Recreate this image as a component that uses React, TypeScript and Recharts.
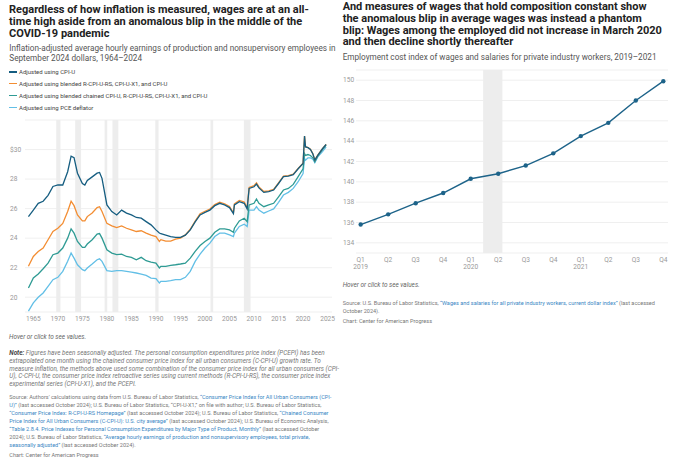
import React from 'react'
import {
  LineChart, Line, XAxis, YAxis, CartesianGrid, ReferenceArea,
} from 'recharts'

// ---- left chart: inflation-adjusted average hourly earnings ----
const YEARS = [
  1964, 1965, 1966, 1967, 1968, 1969, 1970, 1971, 1972, 1972.7, 1973.3,
  1974, 1975, 1975.5, 1976, 1977, 1978, 1978.5, 1979,
  1980, 1981, 1982, 1983, 1984, 1985, 1986, 1987, 1988, 1989, 1990, 1990.7,
  1991, 1992, 1993, 1994, 1995, 1996, 1997, 1998, 1999, 2000, 2001, 2002, 2003, 2004, 2005, 2005.8,
  2006, 2007, 2008, 2008.6, 2009, 2010, 2010.5,
  2011, 2012, 2013, 2014, 2015, 2016, 2017, 2018, 2019, 2020, 2020.3, 2020.5,
  2021, 2021.5, 2022, 2022.4, 2023, 2024, 2024.7,
]
const CPI_U = [
  25.46, 25.9, 26.36, 26.5, 26.9, 27.5, 27.6, 27.6, 28.5, 29.55, 29.45,
  28.4, 27.7, 27.6, 27.9, 28.15, 28.4, 28.45, 28.05,
  26.25, 25.8, 25.57, 25.9, 25.7, 25.57, 25.4, 25.35, 25.12, 24.9, 24.56, 24.35,
  24.3, 24.2, 24.1, 24.05, 24.05, 24.2, 24.56, 25.1, 25.57, 25.75, 25.9, 26.2, 26.36, 26.25, 26.07, 25.66,
  26.25, 26.47, 26.36, 25.98, 27.37, 27.48, 27.66,
  27.4, 27.1, 27.15, 27.26, 27.7, 28.16, 28.2, 28.3, 28.7, 29.05, 30.92, 30.18,
  30.13, 30.0, 29.7, 29.28, 29.6, 30.07, 30.34,
]
const BLENDED = [
  22.1, 22.76, 23.1, 23.33, 23.89, 24.45, 24.67, 25.0, 25.8, 26.5, 26.2,
  25.57, 25.17, 25.17, 25.46, 25.7, 26.07, 26.13, 25.8,
  25.0, 24.83, 24.72, 24.83, 24.67, 24.56, 24.45, 24.5, 24.34, 24.2, 24.1, 23.78,
  23.9, 23.8, 23.8, 23.93, 24.0, 24.22, 24.6, 25.15, 25.65, 25.82, 25.97, 26.27, 26.44, 26.33, 26.15, 25.72,
  26.33, 26.56, 26.45, 26.05, 27.43, 27.55, 27.75,
  27.47, 27.16, 27.2, 27.3, 27.74, 28.2, 28.23, 28.33, 28.72, 29.07, 30.92, 30.2,
  30.14, 30.02, 29.72, 29.3, 29.62, 30.08, 30.35,
]
const CHAINED = [
  20.63, 21.3, 21.57, 21.93, 22.31, 22.88, 22.99, 23.33, 24.0, 24.63, 24.34,
  23.78, 23.37, 23.37, 23.6, 23.89, 24.27, 24.31, 24.0,
  23.21, 22.99, 22.88, 22.92, 22.76, 22.7, 22.54, 22.7, 22.47, 22.38, 22.31, 21.98,
  22.09, 22.09, 22.16, 22.2, 22.25, 22.31, 22.65, 23.1, 23.5, 23.78, 24.0, 24.4, 24.63, 24.63, 24.56, 24.4,
  24.67, 25.17, 25.35, 25.12, 26.25, 26.36, 26.65,
  26.36, 26.13, 26.25, 26.36, 26.8, 27.26, 27.37, 27.64, 28.16, 28.7, 29.73, 29.6,
  29.66, 29.6, 29.44, 29.17, 29.57, 30.02, 30.3,
]
const PCE = [
  19.06, 19.62, 20.0, 20.29, 20.74, 21.19, 21.35, 21.75, 22.43, 22.99, 22.65,
  22.2, 21.87, 21.8, 21.98, 22.25, 22.54, 22.6, 22.43,
  21.8, 21.75, 21.8, 21.8, 21.75, 21.7, 21.64, 21.57, 21.48, 21.3, 21.26, 20.97,
  21.08, 21.08, 21.12, 21.19, 21.19, 21.35, 21.75, 22.43, 22.92, 23.33, 23.66, 24.11, 24.34, 24.34, 24.22, 24.11,
  24.34, 24.79, 24.94, 24.79, 25.9, 25.9, 26.13,
  25.9, 25.69, 25.84, 25.98, 26.43, 26.92, 27.1, 27.37, 27.82, 28.38, 29.39, 29.28,
  29.44, 29.44, 29.35, 29.12, 29.5, 29.88, 30.18,
]
const LEFT_X_TICKS = [1965, 1970, 1975, 1980, 1985, 1990, 1995, 2000, 2005, 2010, 2015, 2020, 2025]
const LEFT_Y_TICKS = [20, 22, 24, 26, 28, 30]
const RECESSIONS: [number, number][] = [
  [1969.67, 1970.53], [1973.53, 1974.73], [1979.53, 1980.07], [1981.13, 1982.33],
  [1989.87, 1990.53], [2001.12, 2001.67], [2007.93, 2009.29],
]

const LEGEND = [
  { label: 'Adjusted using CPI-U', color: '#155d80' },
  { label: 'Adjusted using blended R-CPI-U-RS, CPI-U-X1, and CPI-U', color: '#f38d32' },
  { label: 'Adjusted using blended chained CPI-U, R-CPI-U-RS, CPI-U-X1, and CPI-U', color: '#2f9b94' },
  { label: 'Adjusted using PCE deflator', color: '#62bfe6' },
]

// ---- right chart: employment cost index ----
const QUARTERS = ['Q1', 'Q2', 'Q3', 'Q4', 'Q1', 'Q2', 'Q3', 'Q4', 'Q1', 'Q2', 'Q3', 'Q4']
const QUARTER_YEARS = ['2019', '', '', '', '2020', '', '', '', '2021', '', '', '']
const ECI = [135.8, 136.8, 137.9, 138.9, 140.3, 140.8, 141.6, 142.8, 144.5, 145.8, 148.0, 149.9]
const RIGHT_Y_TICKS = [134, 136, 138, 140, 142, 144, 146, 148, 150]

const FONT = 'Roboto, "Noto Sans", sans-serif'
const LINK = '#3a87c4'

const leftData = YEARS.map((year, i) => ({
  year, cpiu: CPI_U[i], blended: BLENDED[i], chained: CHAINED[i], pce: PCE[i],
}))
const rightData = ECI.map((v, i) => ({ idx: i, eci: v }))

function LeftYTick({ y, payload }: any) {
  return (
    <text x={10} y={y} dy={2.3} fontSize={6.6} fill="#999" fontFamily={FONT}>
      {payload.value === 30 ? '$30' : payload.value}
    </text>
  )
}
function LeftXTick({ x, payload }: any) {
  return (
    <text x={x} y={209} dy={2.3} textAnchor="middle" fontSize={6.6} fill="#999" fontFamily={FONT}>
      {payload.value}
    </text>
  )
}
function RightYTick({ y, payload }: any) {
  return (
    <text x={3} y={y} dy={2.3} fontSize={6.6} fill="#999" fontFamily={FONT}>
      {payload.value}
    </text>
  )
}
function RightXTick({ x, payload }: any) {
  const i = payload.value as number
  return (
    <g>
      <text x={x} y={199.3} dy={2.3} textAnchor="middle" fontSize={6.6} fill="#999" fontFamily={FONT}>
        {QUARTERS[i]}
      </text>
      {QUARTER_YEARS[i] && (
        <text x={x} y={206.7} dy={2.3} textAnchor="middle" fontSize={6.6} fill="#999" fontFamily={FONT}>
          {QUARTER_YEARS[i]}
        </text>
      )}
    </g>
  )
}

const abs = (left: number, top: number, extra: React.CSSProperties = {}): React.CSSProperties => ({
  position: 'absolute', left, top, whiteSpace: 'nowrap', fontFamily: FONT, margin: 0, ...extra,
})

const titleStyle: React.CSSProperties = { fontSize: 11, fontWeight: 700, lineHeight: '11.7px', color: '#222' }
const subStyle: React.CSSProperties = { fontSize: 8.2, lineHeight: '9.5px', color: '#555' }
const noteStyle: React.CSSProperties = { fontSize: 6.35, lineHeight: '7.75px', color: '#777', fontStyle: 'italic' }
const srcStyle: React.CSSProperties = { fontSize: 5.55, lineHeight: '7.9px', color: '#777' }
const L = ({ children }: { children: React.ReactNode }) => <span style={{ color: LINK }}>{children}</span>

export default function App() {
  return (
    <div style={{ position: 'absolute', left: 0, top: 0, width: 680, height: 474, background: '#fff', overflow: 'hidden' }}>
      {/* left header */}
      <div style={abs(9, 4.2, titleStyle)}>
        Regardless of how inflation is measured, wages are at an all-<br />
        time high aside from an anomalous blip in the middle of the<br />
        COVID-19 pandemic
      </div>
      <div style={abs(9.3, 44.2, subStyle)}>
        Inflation-adjusted average hourly earnings of production and nonsupervisory employees in<br />
        September 2024 dollars, 1964–2024
      </div>
      {LEGEND.map((l, i) => (
        <div key={l.label} style={abs(9, 68 + i * 11.9, { fontSize: 6, lineHeight: '7.5px', color: '#444', display: 'flex', alignItems: 'center' })}>
          <span style={{ display: 'inline-block', width: 7.5, height: 1.5, background: l.color, marginRight: 2.5 }} />
          {l.label}
        </div>
      ))}

      {/* left chart */}
      <div style={{ position: 'absolute', left: 0, top: 110, width: 340, height: 215 }}>
        <LineChart width={340} height={215} data={leftData} margin={{ top: 10, right: 8, bottom: 1, left: 0 }}>
          {RECESSIONS.map(([a, b]) => (
            <ReferenceArea key={a} x1={a} x2={b} y1={19} y2={32} fill="#ededed" fillOpacity={1} stroke="none" />
          ))}
          <CartesianGrid horizontal vertical={false} stroke="#ebebeb" strokeWidth={0.8} />
          <XAxis
            type="number" dataKey="year" domain={[1963.3, 2025.9]} ticks={LEFT_X_TICKS}
            axisLine={false} tickLine={false} height={12} tick={<LeftXTick />} interval={0}
            allowDataOverflow
          />
          <YAxis
            type="number" domain={[19, 32]} ticks={LEFT_Y_TICKS} width={25}
            axisLine={false} tickLine={false} tick={<LeftYTick />} interval={0}
            allowDataOverflow
          />
          <Line dataKey="pce" stroke="#62bfe6" strokeWidth={1.3} dot={false} isAnimationActive={false} />
          <Line dataKey="chained" stroke="#2f9b94" strokeWidth={1.3} dot={false} isAnimationActive={false} />
          <Line dataKey="blended" stroke="#f38d32" strokeWidth={1.3} dot={false} isAnimationActive={false} />
          <Line dataKey="cpiu" stroke="#155d80" strokeWidth={1.3} dot={false} isAnimationActive={false} />
        </LineChart>
      </div>

      {/* left footer */}
      <div style={abs(9, 333, { fontSize: 6.4, color: '#666', fontStyle: 'italic', lineHeight: '8px' })}>
        Hover or click to see values.
      </div>
      <div style={abs(9.3, 350.2, noteStyle)}>
        <b style={{ color: '#444' }}>Note:</b> Figures have been seasonally adjusted. The personal consumption expenditures price index (PCEPI) has been<br />
        extrapolated one month using the chained consumer price index for all urban consumers (C-CPI-U) growth rate. To<br />
        measure inflation, the methods above used some combination of the consumer price index for all urban consumers (CPI-<br />
        U), C-CPI-U, the consumer price index retroactive series using current methods (R-CPI-U-RS), the consumer price index<br />
        experimental series (CPI-U-X1), and the PCEPI.
      </div>
      <div style={abs(9.3, 394.4, srcStyle)}>
        Source: Authors' calculations using data from U.S. Bureau of Labor Statistics, <L>“Consumer Price Index for All Urban Consumers (CPI-</L><br />
        <L>U)”</L> (last accessed October 2024); U.S. Bureau of Labor Statistics, “CPI-U-X1,” on file with author; U.S. Bureau of Labor Statistics,<br />
        <L>“Consumer Price Index: R-CPI-U-RS Homepage”</L> (last accessed October 2024); U.S. Bureau of Labor Statistics, <L>“Chained Consumer</L><br />
        <L>Price Index for All Urban Consumers (C-CPI-U): U.S. city average”</L> (last accessed October 2024); U.S. Bureau of Economic Analysis,<br />
        <L>“Table 2.8.4. Price Indexes for Personal Consumption Expenditures by Major Type of Product, Monthly”</L> (last accessed October<br />
        2024); U.S. Bureau of Labor Statistics, <L>“Average hourly earnings of production and nonsupervisory employees, total private,</L><br />
        <L>seasonally adjusted”</L> (last accessed October 2024).
      </div>
      <div style={abs(9.3, 452, srcStyle)}>Chart: Center for American Progress</div>

      {/* right header */}
      <div style={abs(342.7, 1.3, titleStyle)}>
        And measures of wages that hold composition constant show<br />
        the anomalous blip in average wages was instead a phantom<br />
        blip: Wages among the employed did not increase in March 2020<br />
        and then decline shortly thereafter
      </div>
      <div style={abs(342.7, 52.5, subStyle)}>
        Employment cost index of wages and salaries for private industry workers, 2019–2021
      </div>

      {/* right chart */}
      <div style={{ position: 'absolute', left: 340, top: 60, width: 340, height: 215 }}>
        <LineChart width={340} height={215} data={rightData} margin={{ top: 10, right: 12, bottom: 0, left: 0 }}>
          <ReferenceArea x1={4.45} x2={5.15} y1={133} y2={151} fill="#ededed" fillOpacity={1} stroke="none" />
          <CartesianGrid horizontal vertical={false} stroke="#ebebeb" strokeWidth={0.8} />
          <XAxis
            type="number" dataKey="idx" domain={[-0.17, 11.17]} ticks={QUARTERS.map((_, i) => i)}
            axisLine={false} tickLine={false} height={22} tick={<RightXTick />} interval={0}
          />
          <YAxis
            type="number" domain={[133, 151]} ticks={RIGHT_Y_TICKS} width={16}
            axisLine={false} tickLine={false} tick={<RightYTick />} interval={0}
          />
          <Line
            dataKey="eci" stroke="#1d6389" strokeWidth={1.4}
            dot={{ r: 2.2, fill: '#1d6389', stroke: 'none' }} isAnimationActive={false}
          />
        </LineChart>
      </div>

      {/* right footer */}
      <div style={abs(342.7, 281, { fontSize: 6.4, color: '#666', fontStyle: 'italic', lineHeight: '8px' })}>
        Hover or click to see values.
      </div>
      <div style={abs(342.7, 300.2, srcStyle)}>
        Source: U.S. Bureau of Labor Statistics, <L>“Wages and salaries for all private industry workers, current dollar index”</L> (last accessed<br />
        October 2024).
      </div>
      <div style={abs(342.7, 318.4, srcStyle)}>Chart: Center for American Progress</div>
    </div>
  )
}
